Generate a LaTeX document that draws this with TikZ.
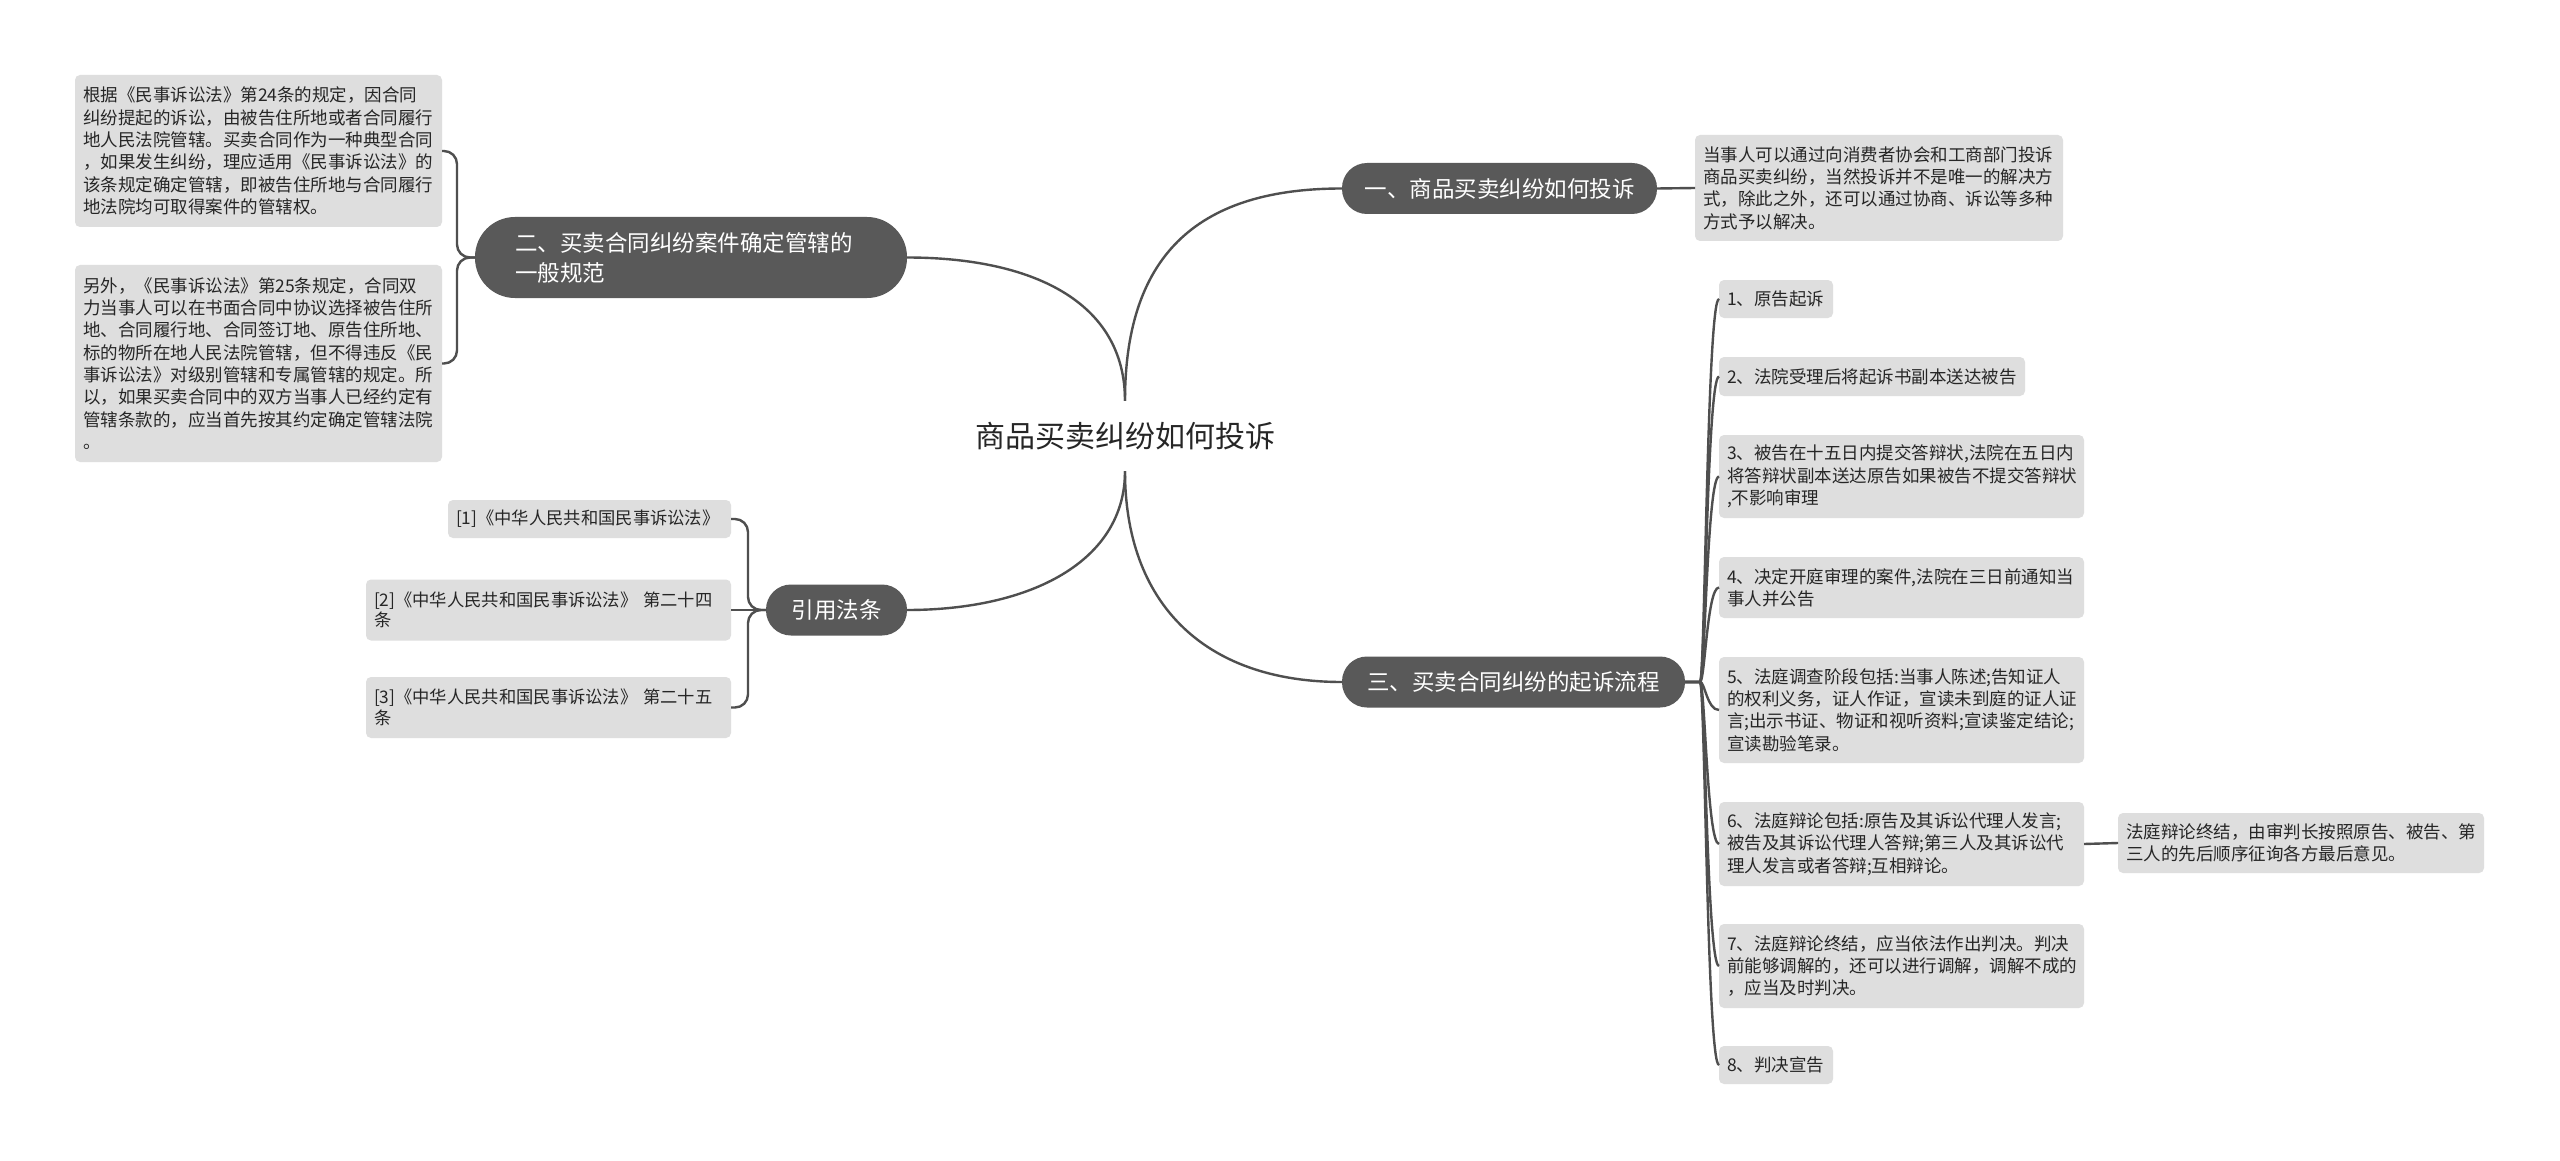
\documentclass[tikz,border=0pt]{standalone}
\usepackage{fontspec}
\setmainfont{Noto Sans CJK SC}
\definecolor{boxgray}{HTML}{DEDEDE}
\definecolor{darknode}{HTML}{595959}
\definecolor{linecol}{HTML}{4F4F4F}
\definecolor{txt}{HTML}{262626}
\newcommand\leaffont{\fontsize{17.5}{22.3}\selectfont}
\newcommand\citefont{\fontsize{17.3}{20.5}\selectfont}
\newcommand\topicfont{\fontsize{22.5}{30}\selectfont}
\newcommand\rootfont{\fontsize{30}{36}\selectfont}
\begin{document}
\begin{tikzpicture}[x=1pt,y=-1pt,
 leaf/.style={fill=boxgray, rounded corners=5pt, inner xsep=8pt, inner ysep=4pt, outer sep=0pt, align=left, text=txt, anchor=north west, font=\leaffont},
 citebox/.style={leaf, font=\citefont},
 topic/.style={fill=darknode, text=white, font=\topicfont, inner sep=0pt, outer sep=0pt, minimum height=51pt, rounded corners=25pt},
 conn/.style={draw=linecol, line width=2.4pt},
 bracket/.style={conn, rounded corners=13pt}
]
\fill[white] (0,0) rectangle (2560,1161);
\useasboundingbox (0,0) rectangle (2560,1161);

% root
\node[font=\rootfont, text=txt, inner sep=0pt, minimum height=70pt] (root) at (1125,436) {商品买卖纠纷如何投诉};

% main topics
\node[topic, minimum width=315pt] (n1) at (1499.5,188.5) {一、商品买卖纠纷如何投诉};
\node[topic, minimum width=343pt] (n3) at (1513.5,682) {三、买卖合同纠纷的起诉流程};
\node[topic, minimum width=141pt] (cite) at (836.5,610) {引用法条};
\node[topic, minimum width=432pt, minimum height=81pt, rounded corners=40pt, align=left, text width=352pt] (n2) at (691,257.5) {二、买卖合同纠纷案件确定管辖的\\一般规范};

% topic one child
\node[leaf, text width=352pt, minimum height=106pt] (n1c) at (1695,135) {当事人可以通过向消费者协会和工商部门投诉\\商品买卖纠纷，当然投诉并不是唯一的解决方\\式，除此之外，还可以通过协商、诉讼等多种\\方式予以解决。};

% topic two children
\node[leaf, text width=351pt, minimum height=152pt] (g1) at (75,75) {根据《民事诉讼法》第24条的规定，因合同\\纠纷提起的诉讼，由被告住所地或者合同履行\\地人民法院管辖。买卖合同作为一种典型合同\\，如果发生纠纷，理应适用《民事诉讼法》的\\该条规定确定管辖，即被告住所地与合同履行\\地法院均可取得案件的管辖权。};
\node[leaf, text width=351pt, minimum height=197pt] (g2) at (75,265) {另外，《民事诉讼法》第25条规定，合同双\\力当事人可以在书面合同中协议选择被告住所\\地、合同履行地、合同签订地、原告住所地、\\标的物所在地人民法院管辖，但不得违反《民\\事诉讼法》对级别管辖和专属管辖的规定。所\\以，如果买卖合同中的双方当事人已经约定有\\管辖条款的，应当首先按其约定确定管辖法院\\。};

% citations
\node[citebox, text width=267pt, minimum height=38pt] (c1) at (448,500) {[1]《中华人民共和国民事诉讼法》};
\node[citebox, text width=349pt, minimum height=61pt] (c2) at (366,579.5) {[2]《中华人民共和国民事诉讼法》 第二十四\\条};
\node[citebox, text width=349pt, minimum height=61pt] (c3) at (366,677) {[3]《中华人民共和国民事诉讼法》 第二十五\\条};

% topic three children
\node[leaf, text width=98pt, minimum height=38pt] (r1) at (1719,280) {1、原告起诉};
\node[leaf, text width=290pt, minimum height=39pt] (r2) at (1719,357) {2、法院受理后将起诉书副本送达被告};
\node[leaf, text width=349pt, minimum height=83pt] (r3) at (1719,435) {3、被告在十五日内提交答辩状,法院在五日内\\将答辩状副本送达原告如果被告不提交答辩状\\,不影响审理};
\node[leaf, text width=349pt, minimum height=61pt] (r4) at (1719,557) {4、决定开庭审理的案件,法院在三日前通知当\\事人并公告};
\node[leaf, text width=349pt, minimum height=106pt] (r5) at (1719,657) {5、法庭调查阶段包括:当事人陈述;告知证人\\的权利义务，证人作证，宣读未到庭的证人证\\言;出示书证、物证和视听资料;宣读鉴定结论;\\宣读勘验笔录。};
\node[leaf, text width=349pt, minimum height=84pt] (r6) at (1719,802) {6、法庭辩论包括:原告及其诉讼代理人发言;\\被告及其诉讼代理人答辩;第三人及其诉讼代\\理人发言或者答辩;互相辩论。};
\node[leaf, text width=349pt, minimum height=84pt] (r7) at (1719,924) {7、法庭辩论终结，应当依法作出判决。判决\\前能够调解的，还可以进行调解，调解不成的\\，应当及时判决。};
\node[leaf, text width=98pt, minimum height=38pt] (r8) at (1719,1046) {8、判决宣告};
\node[leaf, text width=350pt, minimum height=60pt] (r6c) at (2118,813) {法庭辩论终结，由审判长按照原告、被告、第\\三人的先后顺序征询各方最后意见。};

% root connectors
\draw[conn] (root.north) .. controls +(0,-150) and +(-140,0) .. (n1.west);
\draw[conn] (root.north) .. controls +(0,-100) and +(124,0) .. (n2.east);
\draw[conn] (root.south) .. controls +(0,90) and +(124,0) .. (cite.east);
\draw[conn] (root.south) .. controls +(0,130) and +(-140,0) .. (n3.west);

% straight connectors
\draw[conn] (n1.east) -- (n1c.west);
\draw[conn] (r6.east) -- (r6c.west);

% left brackets
\draw[bracket] (n2.west) -- ++(-18,0) |- (g1.east);
\draw[bracket] (n2.west) -- ++(-18,0) |- (g2.east);
\draw[bracket] (cite.west) -- ++(-18,0) |- (c1.east);
\draw[conn] (cite.west) -- (c2.east);
\draw[bracket] (cite.west) -- ++(-18,0) |- (c3.east);

% right fan
\foreach \r in {r1,r2,r3,r4,r5,r6,r7,r8}{
  \draw[conn] (n3.east) -- ++(15,0) .. controls +(5,0) and +(-12,0) .. (\r.west);
}
\end{tikzpicture}
\end{document}
